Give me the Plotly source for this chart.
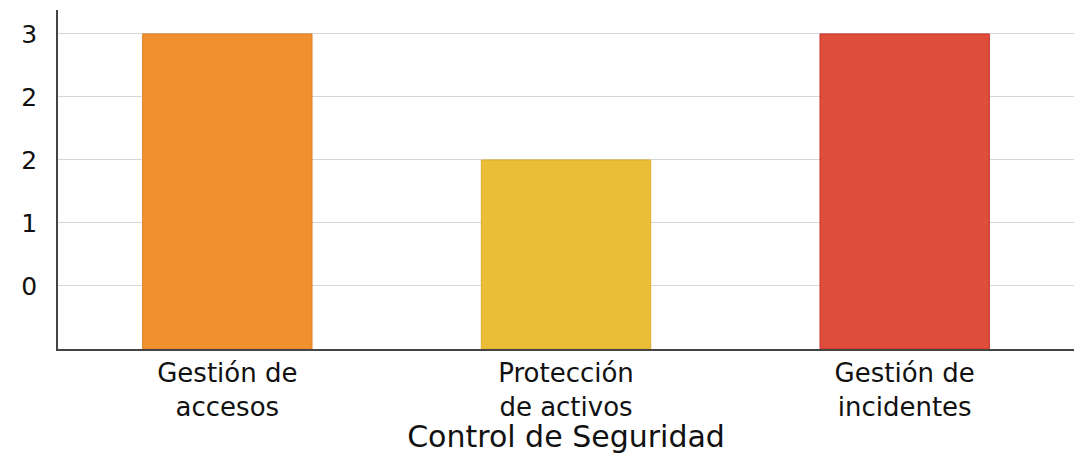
import plotly.graph_objects as go

categories = ["Gestión de<br>accesos", "Protección<br>de activos", "Gestión de<br>incidentes"]
values = [2.5, 1.5, 2.5]
bar_colors = ["#F0902E", "#EBBE38", "#DE4E3A"]
line_colors = ["#E07E1E", "#DDAE2A", "#C8302A"]
tick_vals = [0.5, 1.0, 1.5, 2.0, 2.5]
tick_text = ["0", "1", "2", "2", "3"]

font_family = "DejaVu Sans, Noto Sans, sans-serif"

fig = go.Figure(go.Bar(
    x=categories,
    y=values,
    marker=dict(color=bar_colors, line=dict(color=line_colors, width=1)),
    width=0.5,
))

fig.update_layout(
    width=1074, height=454,
    margin=dict(l=58, r=0, t=10, b=105),
    paper_bgcolor="white", plot_bgcolor="white",
    showlegend=False,
    font=dict(family=font_family, color="#111111"),
    xaxis=dict(
        title=dict(text="Control de Seguridad", font=dict(size=30), standoff=12),
        tickfont=dict(size=26),
        showline=True, linecolor="#444", linewidth=1.5,
        showgrid=False, ticks="",
    ),
    yaxis=dict(
        range=[0, 2.69],
        tickvals=tick_vals, ticktext=tick_text,
        tickfont=dict(size=25),
        showline=True, linecolor="#444", linewidth=1.5,
        showgrid=True, gridcolor="#d6d6d6", gridwidth=1,
        zeroline=False, ticks="", ticklabelstandoff=14,
    ),
)

fig.write_html("out.html")
